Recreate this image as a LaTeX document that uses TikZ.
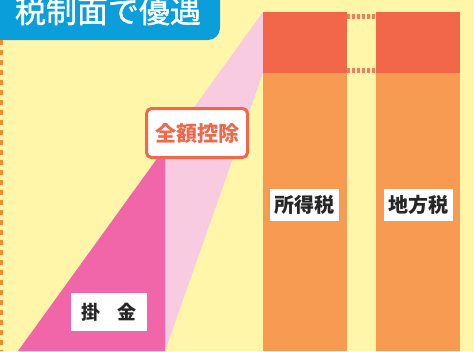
\documentclass[tikz,border=0pt]{standalone}
\usepackage{fontspec}
\newfontfamily\cjk{Noto Sans CJK JP}
\newfontfamily\cjktitle[FakeBold=1.2]{Noto Sans CJK JP}
\definecolor{bgyellow}{HTML}{FFF6AA}
\definecolor{titleblue}{HTML}{0A9FDA}
\definecolor{taxred}{HTML}{F2674A}
\definecolor{taxorange}{HTML}{F79A52}
\definecolor{dotred}{HTML}{F47C5C}
\definecolor{pinkdark}{HTML}{F066A8}
\definecolor{pinklight}{HTML}{F8CBE0}
\definecolor{dashorange}{HTML}{F58A2E}
\begin{document}
\begin{tikzpicture}[x=1pt,y=-1pt,
  whitelabel/.style={fill=white,inner sep=0pt,font=\cjk\bfseries\fontsize{19}{19}\selectfont,text=black!85},
  dotline/.style={dotred,line width=5pt,dash pattern=on 3pt off 2pt}]
\useasboundingbox (0,0) rectangle (474,351);
\fill[bgyellow] (0,0) rectangle (474,351);
% title
\fill[titleblue] (0,0) -- (220,0) -- (220,28) arc[start angle=0,end angle=90,radius=12] -- (0,40) -- cycle;
\node[text=white,font=\cjktitle\fontsize{31}{31}\selectfont,anchor=center] (title) at (108,11) {税制面で優遇};
% dashed left line
\coordinate (dtop) at (1.5,40);
\coordinate (dbot) at (1.5,351);
\draw[dashorange,line width=3pt,dash pattern=on 5pt off 5pt] (dtop) -- (dbot);
% pink shapes
\fill[pinklight] (165,147.6) -- (263,12) -- (263,73) -- (165,351) -- cycle;
\fill[pinkdark] (18,351) -- (165,147.6) -- (165,351) -- cycle;
% bars
\fill[taxorange] (263,12) rectangle (347,351);
\fill[taxorange] (376,12) rectangle (460,351);
\fill[taxred] (263,12) rectangle (347,73);
\fill[taxred] (376,12) rectangle (460,73);
\coordinate (lt) at (347,16.5);
\coordinate (rt) at (376,16.5);
\coordinate (lb) at (347,70);
\coordinate (rb) at (376,70);
\draw[dotline] (lt) -- (rt);
\draw[dotline] (lb) -- (rb);
% labels
\node[draw=taxred,line width=3pt,fill=white,rounded corners=5pt,minimum width=101pt,minimum height=49pt,inner sep=0pt,
  text=taxred,font=\cjk\bfseries\fontsize{21}{21}\selectfont] (zengaku) at (197,133) {全額控除};
\node[whitelabel,minimum width=76pt,minimum height=38pt] (kake) at (109,312) {掛\hspace{0.9em}金};
\node[whitelabel,minimum width=69pt,minimum height=32pt,font=\cjk\bfseries\fontsize{20}{20}\selectfont] (shotoku) at (304.5,205) {所得税};
\node[whitelabel,minimum width=69pt,minimum height=32pt,font=\cjk\bfseries\fontsize{20}{20}\selectfont] (chiho) at (418.5,205) {地方税};
\end{tikzpicture}
\end{document}
